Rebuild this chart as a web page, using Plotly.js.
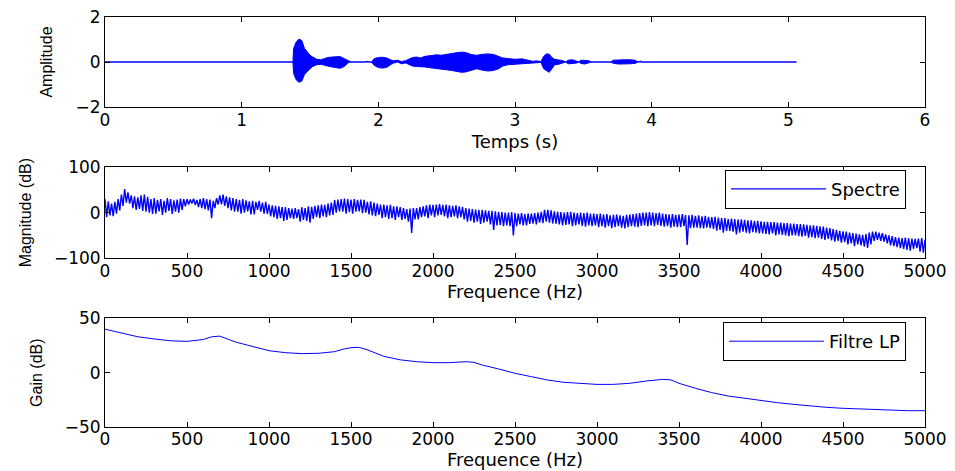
<!DOCTYPE html>
<html>
<head>
<meta charset="utf-8">
<script src="https://cdn.plot.ly/plotly-3.0.1.min.js"></script>
<style>html,body{margin:0;padding:0;background:#fff}</style>
</head>
<body>
<div id="chart" style="width:955px;height:471px"></div>
<script>
// ---- Subplot 1: time signal envelope ----
const sigTime  = [0, 1.375, 1.38, 1.40, 1.42, 1.44, 1.46, 1.48, 1.50, 1.52, 1.55, 1.58, 1.60, 1.63, 1.66, 1.69, 1.72, 1.75, 1.78, 1.80, 1.90, 1.92, 1.93, 1.95, 1.97, 2.00, 2.03, 2.06, 2.09, 2.11, 2.14, 2.17, 2.20, 2.22, 2.25, 2.28, 2.31, 2.34, 2.37, 2.40, 2.43, 2.46, 2.50, 2.54, 2.58, 2.61, 2.64, 2.68, 2.72, 2.76, 2.80, 2.84, 2.88, 2.91, 2.95, 3.00, 3.05, 3.10, 3.13, 3.16, 3.19, 3.21, 3.23, 3.25, 3.27, 3.29, 3.32, 3.35, 3.37, 3.39, 3.42, 3.45, 3.47, 3.48, 3.51, 3.54, 3.56, 3.70, 3.72, 3.76, 3.80, 3.84, 3.88, 3.90, 3.92, 3.93, 5.06];
const sigUpper = [0, 0, 0.6, 0.9, 1.02, 0.95, 0.6, 0.45, 0.3, 0.22, 0.12, 0.1, 0.15, 0.2, 0.22, 0.24, 0.24, 0.15, 0.04, 0, 0, 0.03, 0, 0, 0.15, 0.2, 0.21, 0.18, 0.1, 0.05, 0.08, 0.02, 0.06, 0.12, 0.2, 0.22, 0.18, 0.25, 0.28, 0.3, 0.32, 0.3, 0.35, 0.38, 0.42, 0.44, 0.42, 0.33, 0.3, 0.34, 0.36, 0.34, 0.25, 0.18, 0.15, 0.12, 0.14, 0.08, 0.03, 0.05, 0.02, 0.25, 0.36, 0.35, 0.2, 0.12, 0.1, 0.06, 0, 0.08, 0.1, 0.06, 0, 0.08, 0.08, 0.06, 0, 0, 0.08, 0.1, 0.1, 0.1, 0.08, 0, 0.04, 0, 0];
const sigLower = [0, 0, -0.5, -0.8, -0.9, -0.85, -0.55, -0.4, -0.3, -0.2, -0.12, -0.1, -0.12, -0.18, -0.22, -0.26, -0.28, -0.2, -0.03, 0, 0, -0.02, 0, 0, -0.15, -0.25, -0.27, -0.24, -0.12, -0.05, 0, -0.08, -0.04, -0.1, -0.18, -0.2, -0.2, -0.22, -0.25, -0.28, -0.3, -0.32, -0.35, -0.38, -0.42, -0.46, -0.44, -0.38, -0.3, -0.36, -0.4, -0.38, -0.3, -0.18, -0.12, -0.1, -0.08, -0.05, -0.02, -0.04, -0.02, -0.3, -0.4, -0.46, -0.3, -0.12, -0.1, -0.05, 0, -0.08, -0.08, -0.05, 0, -0.06, -0.09, -0.05, 0, 0, -0.06, -0.09, -0.1, -0.08, -0.06, 0, 0, 0, 0];

// ---- Subplot 2: spectrum, one value every 10 Hz from 0 to 5000 Hz ----
const specStartHz = 0;
const specStepHz = 10;
const specDb = [
  30, -10, 25, -6, 20, -8, 24, -2, 30, 5,
  40, 15, 52, 22, 45, 20, 38, 10, 36, 6,
  34, 8, 38, 4, 40, 2, 35, 0, 30, -3,
  32, -2, 28, 3, 30, -5, 26, 0, 32, 4,
  30, -3, 27, 2, 29, 0, 31, 6, 30, 14,
  30, 18, 29, 20, 31, 17, 28, 12, 30, 10,
  32, 8, 30, 5, 29, -12, 26, 10, 32, 18,
  38, 18, 40, 15, 36, 10, 34, 5, 32, 2,
  30, 2, 28, -2, 30, 0, 27, 3, 25, -4,
  26, -4, 24, 6, 26, 2, 22, -2, 24, -3,
  18, -8, 16, -10, 15, -14, 14, -12, 12, -18,
  12, -16, 10, -12, 9, -14, 10, -12, 8, -20,
  12, -16, 10, -18, 14, -22, 13, -14, 15, -10,
  16, -12, 18, -8, 17, -10, 20, -6, 22, -5,
  28, 0, 29, 3, 30, 2, 31, -2, 30, 1,
  29, -2, 30, 2, 28, 3, 29, -1, 28, 0,
  24, -4, 25, -6, 22, -8, 20, -5, 18, -12,
  18, -10, 16, -14, 17, -12, 14, -16, 14, -10,
  12, -16, 10, -14, 8, -20, 9, -45, 10, -15,
  10, -15, 12, -10, 14, -8, 16, -12, 18, -6,
  17, -10, 18, -6, 19, -5, 17, -8, 18, -12,
  16, -10, 15, -8, 16, -12, 14, -10, 13, -15,
  10, -20, 9, -18, 8, -22, 7, -20, 6, -25,
  6, -22, 5, -20, 4, -26, 4, -38, 3, -28,
  2, -27, 1, -30, 0, -28, 0, -30, 1, -50,
  -1, -30, -2, -26, -1, -28, -3, -28, -2, -25,
  -2, -24, -1, -26, 0, -22, 2, -23, 6, -20,
  6, -22, 5, -24, 3, -24, 2, -26, 1, -28,
  0, -27, 1, -26, 2, -30, 0, -28, -1, -26,
  0, -29, -1, -31, 0, -28, -2, -30, -2, -28,
  -3, -32, -2, -30, -4, -33, -3, -30, -6, -34,
  -5, -32, -4, -30, -6, -33, -7, -35, -5, -32,
  -4, -30, -3, -31, -2, -32, -1, -29, 0, -28,
  0, -30, 1, -28, 0, -30, -1, -27, 0, -29,
  -2, -31, -3, -30, -4, -33, -3, -31, -5, -32,
  -4, -32, -3, -30, -5, -71, -6, -34, -5, -33,
  -7, -33, -6, -34, -8, -35, -7, -33, -9, -34,
  -10, -36, -9, -40, -11, -38, -12, -44, -12, -40,
  -14, -40, -13, -42, -14, -48, -15, -44, -15, -42,
  -16, -44, -17, -46, -17, -43, -18, -44, -18, -46,
  -19, -46, -20, -47, -20, -48, -21, -46, -21, -50,
  -22, -48, -22, -49, -23, -50, -23, -52, -24, -50,
  -24, -50, -25, -52, -25, -53, -26, -51, -27, -55,
  -28, -54, -28, -56, -29, -55, -30, -58, -31, -60,
  -33, -58, -34, -61, -36, -64, -38, -62, -40, -66,
  -41, -65, -42, -70, -44, -68, -45, -74, -46, -70,
  -48, -72, -49, -75, -47, -78, -44, -70, -42, -62,
  -42, -60, -44, -62, -45, -64, -48, -68, -50, -72,
  -52, -74, -54, -76, -55, -78, -56, -80, -55, -82,
  -56, -84, -57, -80, -58, -78, -57, -86, -56, -88,
  -60
];

// ---- Subplot 3: LP filter gain ----
const gainFreq = [0, 100, 200, 300, 400, 500, 600, 650, 700, 800, 900, 1000, 1100, 1200, 1300, 1400, 1450, 1500, 1550, 1600, 1700, 1800, 1900, 2000, 2100, 2150, 2200, 2250, 2300, 2400, 2500, 2600, 2700, 2800, 2900, 3000, 3100, 3200, 3300, 3400, 3450, 3500, 3600, 3700, 3800, 3900, 4000, 4100, 4200, 4300, 4400, 4500, 4600, 4700, 4800, 4900, 5000];
const gainDb   = [40, 36.5, 33, 31, 29.3, 28.8, 30.5, 33, 33.6, 28, 24, 20.2, 18.4, 17.5, 17.8, 19.3, 21.5, 23, 23.3, 21, 15, 11.8, 10.1, 9.2, 9.2, 9.6, 10.1, 9.5, 7, 3.4, -0.6, -3.7, -6.8, -8.9, -10.1, -10.8, -10.8, -9.8, -7.7, -6.2, -6.6, -9.8, -14.4, -18.4, -21.5, -23.6, -25.8, -27.6, -29.2, -30.7, -31.9, -32.8, -33.4, -33.8, -34.4, -35, -35];

// ---- Labels ----
const xTitle1 = 'Temps (s)';
const xTitleF = 'Frequence (Hz)';
const yTitle1 = 'Amplitude';
const yTitle2 = 'Magnitude (dB)';
const yTitle3 = 'Gain (dB)';
const specName = 'Spectre';
const gainName = 'Filtre LP';

const BLUE = '#0000ff';
const tickFont = {family: 'DejaVu Sans', size: 17, color: '#000'};
const xTitleFont = {family: 'DejaVu Sans', size: 18, color: '#000'};
const yTitleFont = {family: 'Liberation Sans, Arial', size: 16, color: '#000'};

function axisBase(extra) {
  return Object.assign({
    showline: true, linecolor: '#000', linewidth: 1, mirror: 'ticks',
    ticks: 'inside', ticklen: 5, tickcolor: '#000', tickwidth: 1,
    showgrid: false, zeroline: false, tickfont: tickFont, fixedrange: true
  }, extra);
}

const traces = [
  {x: sigTime, y: sigLower, type: 'scatter', mode: 'lines', line: {color: BLUE, width: 1},
   xaxis: 'x', yaxis: 'y', showlegend: false, hoverinfo: 'skip'},
  {x: sigTime, y: sigUpper, type: 'scatter', mode: 'lines', line: {color: BLUE, width: 1},
   fill: 'tonexty', fillcolor: BLUE, xaxis: 'x', yaxis: 'y', showlegend: false, hoverinfo: 'skip'},
  {x0: specStartHz, dx: specStepHz, y: specDb, type: 'scatter', mode: 'lines', name: specName,
   line: {color: BLUE, width: 1.4}, xaxis: 'x2', yaxis: 'y2', legend: 'legend'},
  {x: gainFreq, y: gainDb, type: 'scatter', mode: 'lines', name: gainName,
   line: {color: BLUE, width: 1}, xaxis: 'x3', yaxis: 'y3', legend: 'legend2'}
];

const legendStyle = {
  bgcolor: '#fff', bordercolor: '#000', borderwidth: 1,
  font: {family: 'DejaVu Sans', size: 18, color: '#000'},
  xanchor: 'right', yanchor: 'top', itemwidth: 95
};

const layout = {
  width: 955, height: 471,
  margin: {l: 105, r: 30, t: 17, b: 44},
  paper_bgcolor: '#fff', plot_bgcolor: '#fff',
  showlegend: true,
  xaxis: axisBase({domain: [0, 1], range: [0, 6], dtick: 1, tick0: 0, anchor: 'y',
    ticklabelstandoff: -2, title: {text: xTitle1, font: xTitleFont, standoff: 6}}),
  yaxis: axisBase({domain: [0.7805, 1], range: [-2, 2], dtick: 2, tick0: 0, anchor: 'x',
    title: {text: yTitle1, font: yTitleFont, standoff: 18}}),
  xaxis2: axisBase({domain: [0, 1], range: [0, 5000], dtick: 500, tick0: 0, anchor: 'y2',
    ticklabelstandoff: -2, title: {text: xTitleF, font: xTitleFont, standoff: 2}}),
  yaxis2: axisBase({domain: [0.4122, 0.6334], range: [-100, 100], dtick: 100, tick0: 0, anchor: 'x2',
    title: {text: yTitle2, font: yTitleFont, standoff: 18}}),
  xaxis3: axisBase({domain: [0, 1], range: [0, 5000], dtick: 500, tick0: 0, anchor: 'y3',
    ticklabelstandoff: -3, title: {text: xTitleF, font: xTitleFont, standoff: 4}}),
  yaxis3: axisBase({domain: [0, 0.2651], range: [-50, 50], dtick: 50, tick0: 0, anchor: 'x3',
    title: {text: yTitle3, font: yTitleFont, standoff: 18}}),
  legend: Object.assign({x: 0.9768, y: 0.6276}, legendStyle),
  legend2: Object.assign({x: 0.9768, y: 0.2561}, legendStyle)
};

Plotly.newPlot('chart', traces, layout, {displayModeBar: false, staticPlot: true});
</script>
</body>
</html>
